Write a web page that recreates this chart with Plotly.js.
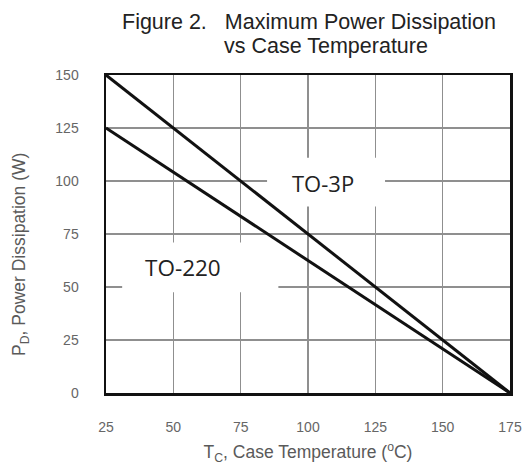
<!DOCTYPE html>
<html>
<head>
<meta charset="utf-8">
<script src="https://cdn.plot.ly/plotly-3.0.1.min.js"></script>
<style>html,body{margin:0;padding:0;background:#fff;}#chart{width:524px;height:470px;}</style>
</head>
<body>
<div id="chart"></div>
<script>
// Data
const caseTemp = [25, 175];            // °C
const powerTO3P = [150, 0];            // W
const powerTO220 = [125, 0];           // W
const xTicks = [25, 50, 75, 100, 125, 150, 175];
const yTicks = [0, 25, 50, 75, 100, 125, 150];
const seriesNames = ['TO-3P', 'TO-220'];

const lineStyle = {color: '#111', width: 3};
const traces = [
  {x: caseTemp, y: powerTO3P, name: seriesNames[0], mode: 'lines', line: lineStyle, hoverinfo: 'skip'},
  {x: caseTemp, y: powerTO220, name: seriesNames[1], mode: 'lines', line: lineStyle, hoverinfo: 'skip'}
];

const tickFont = {family: 'Liberation Sans, Arial, sans-serif', size: 14, color: '#666'};
const titleFont = {family: 'Liberation Sans, Arial, sans-serif', size: 17.5, color: '#5a5a5a'};

const layout = {
  width: 524, height: 470,
  margin: {l: 106, r: 14, t: 75, b: 77},
  paper_bgcolor: '#fff', plot_bgcolor: '#fff',
  showlegend: false,
  xaxis: {
    range: [25, 175], tickvals: xTicks, ticktext: xTicks.map(String),
    showgrid: true, gridcolor: '#8f8f8f', gridwidth: 1.6,
    zeroline: false, showline: true, linecolor: '#111', linewidth: 2.5, mirror: true,
    ticks: '', ticklabelstandoff: 20, tickfont: tickFont,
    title: {text: 'T<sub>C</sub>, Case Temperature (<sup>o</sup>C)', font: titleFont, standoff: 12},
    fixedrange: true
  },
  yaxis: {
    range: [0, 150], tickvals: yTicks, ticktext: yTicks.map(String),
    showgrid: true, gridcolor: '#8f8f8f', gridwidth: 1.6,
    zeroline: false, showline: true, linecolor: '#111', linewidth: 2.5, mirror: true,
    ticks: '', ticklabelstandoff: 22, tickfont: tickFont,
    fixedrange: true
  },
  shapes: [
    {type: 'rect', xref: 'x', yref: 'y', x0: 84.8, x1: 128.6, y0: 88, y1: 111,
     fillcolor: '#fff', line: {width: 0}, layer: 'between'},
    {type: 'rect', xref: 'x', yref: 'y', x0: 31, x1: 89, y0: 47.5, y1: 71,
     fillcolor: '#fff', line: {width: 0}, layer: 'between'}
  ],
  annotations: [
    {text: 'Figure 2.\u00A0\u00A0\u00A0Maximum Power Dissipation', xref: 'paper', yref: 'paper',
     x: (309 - 106) / 404, y: 1 + (75 - 22) / 318, xanchor: 'center', yanchor: 'middle',
     showarrow: false, font: {family: 'Liberation Sans, Arial, sans-serif', size: 21.5, color: '#222'}},
    {text: 'vs Case Temperature', xref: 'paper', yref: 'paper',
     x: (326 - 106) / 404, y: 1 + (75 - 46) / 318, xanchor: 'center', yanchor: 'middle',
     showarrow: false, font: {family: 'Liberation Sans, Arial, sans-serif', size: 21.5, color: '#222'}},
    {text: 'P<sub>D</sub>, Power Dissipation (W)', xref: 'paper', yref: 'paper',
     x: (20 - 106) / 404, y: (393 - 255) / 318, xanchor: 'center', yanchor: 'middle',
     textangle: -90, showarrow: false, font: titleFont},
    {text: seriesNames[0], xref: 'x', yref: 'y', x: 105.5, y: 99, showarrow: false,
     font: {family: 'Open Sans, Liberation Sans, sans-serif', size: 22, color: '#222'}},
    {text: seriesNames[1], xref: 'x', yref: 'y', x: 53.5, y: 59, showarrow: false,
     font: {family: 'Open Sans, Liberation Sans, sans-serif', size: 22.5, color: '#222'}}
  ]
};

Plotly.newPlot('chart', traces, layout, {staticPlot: true, displayModeBar: false});
</script>
</body>
</html>
